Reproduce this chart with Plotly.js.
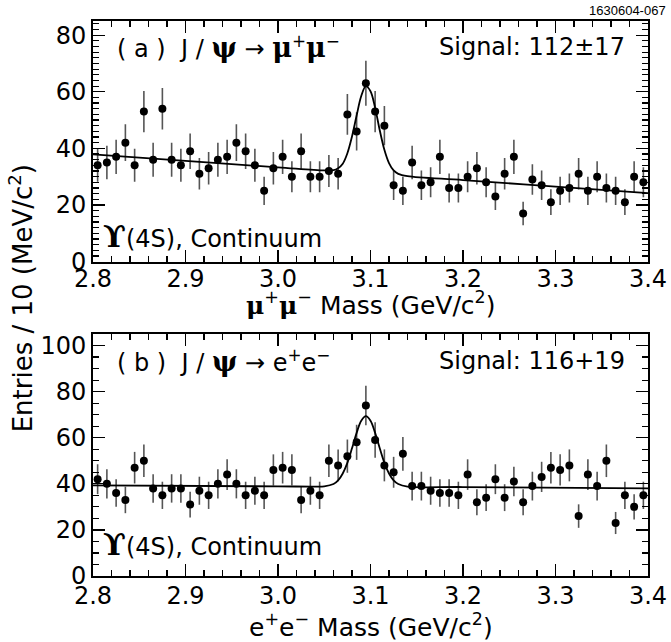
<!DOCTYPE html>
<html>
<head>
<meta charset="utf-8">
<script src="https://cdn.plot.ly/plotly-3.0.1.min.js"></script>
<style>html,body{margin:0;padding:0;background:#fff;}#chart{width:671px;height:642px;}</style>
</head>
<body>
<div id="chart"></div>
<script>
// Bin centres (10 MeV bins)
const massBins = [2.805,2.815,2.825,2.835,2.845,2.855,2.865,2.875,2.885,2.895,
  2.905,2.915,2.925,2.935,2.945,2.955,2.965,2.975,2.985,2.995,
  3.005,3.015,3.025,3.035,3.045,3.055,3.065,3.075,3.085,3.095,
  3.105,3.115,3.125,3.135,3.145,3.155,3.165,3.175,3.185,3.195,
  3.205,3.215,3.225,3.235,3.245,3.255,3.265,3.275,3.285,3.295,
  3.305,3.315,3.325,3.335,3.345,3.355,3.365,3.375,3.385,3.395];

// (a) J/psi -> mu+ mu- entries
const muEntries = [34,35,37,42,34,53,36,54,36,34,
  39,31,33,36,37,42,39,34,25,33,
  37,30,39,30,30,32,31,52,46,63,
  53,48,27,25,35,27,28,37,26,26,
  30,33,28,23,31,37,17,29,27,21,
  25,26,31,25,30,26,25,21,30,28];

// (b) J/psi -> e+ e- entries
const eeEntries = [42,40,36,33,47,50,38,35,38,38,
  31,37,35,40,44,40,35,37,35,46,
  47,46,33,37,35,50,48,52,58,74,
  59,48,45,53,39,39,37,36,36,35,
  44,32,34,42,34,41,32,39,43,47,
  46,48,26,44,39,50,23,35,30,35];

// Fit curves
const fitMuX = [2.80,2.90,3.00,3.05,3.06,3.065,3.07,3.075,3.08,3.085,3.09,3.095,3.10,3.105,3.11,3.115,3.12,3.125,3.13,3.14,3.20,3.30,3.40];
const fitMuY = [37.9,35.6,33.3,32.2,32.3,33.0,34.6,38.3,44.2,51.6,58.5,62.0,60.2,54.3,46.4,39.5,34.8,32.2,31.0,30.2,28.8,26.5,24.2];
const fitEeX = [2.80,3.00,3.04,3.05,3.06,3.065,3.07,3.075,3.08,3.085,3.09,3.095,3.10,3.105,3.11,3.115,3.12,3.125,3.13,3.14,3.20,3.40];
const fitEeY = [39.3,38.9,38.8,38.9,39.9,41.5,44.5,49.1,55.4,62.1,67.4,69.4,67.4,62.1,55.4,49.1,44.5,41.5,39.9,38.8,38.6,38.0];

const xTickVals = [2.8,2.9,3.0,3.1,3.2,3.3,3.4];
const xTickText = ["2.8","2.9","3.0","3.1","3.2","3.3","3.4"];

const FONT = "DejaVu Sans, Liberation Sans, Arial, sans-serif";
const FS = 24;
const G = (s, sz) => '<span style="font-family:DejaVu Serif;font-weight:bold;font-size:' + (sz || 27) + 'px">' + s + '</span>';
const UPS = '<span style="font-family:DejaVu Serif;font-weight:bold;font-size:30px">ϒ</span>';
const SP = '\u00a0';

function pts(xa, ya, data) {
  return {
    x: massBins, y: data, xaxis: xa, yaxis: ya, type: 'scatter', mode: 'markers',
    marker: {color: '#000', size: 8},
    error_y: {type: 'sqrt', visible: true, color: '#555', thickness: 1.6, width: 0},
    showlegend: false, hoverinfo: 'skip'
  };
}
const traces = [
  pts('x', 'y', muEntries),
  {x: fitMuX, y: fitMuY, xaxis: 'x', yaxis: 'y', type: 'scatter', mode: 'lines',
   line: {color: '#000', width: 1.8, shape: 'spline', smoothing: 1}, showlegend: false, hoverinfo: 'skip'},
  pts('x2', 'y2', eeEntries),
  {x: fitEeX, y: fitEeY, xaxis: 'x2', yaxis: 'y2', type: 'scatter', mode: 'lines',
   line: {color: '#000', width: 1.8, shape: 'spline', smoothing: 1}, showlegend: false, hoverinfo: 'skip'}
];

function xax(anchor, standoff) {
  return {
    anchor: anchor, range: [2.8, 3.4], tickvals: xTickVals, ticktext: xTickText,
    ticks: 'inside', ticklen: 12, tickwidth: 1.2, tickcolor: '#000',
    ticklabelstandoff: standoff,
    minor: {dtick: 0.02, ticklen: 6, tickwidth: 1.2, tickcolor: '#000', ticks: 'inside'},
    showline: true, linewidth: 2, linecolor: '#000', mirror: 'allticks',
    showgrid: false, zeroline: false, tickfont: {family: FONT, size: FS, color: '#000'}
  };
}
function yax(domain, range, minorD, anchor) {
  return {
    domain: domain, anchor: anchor, range: range, dtick: 20, tick0: 0,
    ticks: 'inside', ticklen: 12, tickwidth: 1.2, tickcolor: '#000',
    minor: {dtick: minorD, ticklen: 6, tickwidth: 1.2, tickcolor: '#000', ticks: 'inside'},
    showline: true, linewidth: 2, linecolor: '#000', mirror: 'allticks',
    showgrid: false, zeroline: false, tickfont: {family: FONT, size: FS, color: '#000'}
  };
}

const ann = (x, y, text, xanchor, size) => ({
  xref: 'paper', yref: 'paper', x: x, y: y, text: text, showarrow: false,
  xanchor: xanchor, yanchor: 'middle', font: {family: FONT, size: size || FS, color: '#000'}
});

const headA = '(' + SP + 'a' + SP + ')' + SP + SP + 'J' + SP + '/' + SP + G('ψ') + SP + '→' + SP + G('μ') + '<sup>+</sup>' + G('μ') + '<sup>−</sup>';
const headB = '(' + SP + 'b' + SP + ')' + SP + SP + 'J' + SP + '/' + SP + G('ψ') + SP + '→' + SP + 'e<sup>+</sup>e<sup>−</sup>';

// plot area: top 21 px, bottom frame at 576 px
const layout = {
  width: 671, height: 642,
  margin: {l: 93, r: 23, t: 21, b: 66},
  paper_bgcolor: '#fff', plot_bgcolor: '#fff',
  showlegend: false,
  xaxis: xax('y', -5),
  yaxis: yax([0.5665, 1], [0, 85], 2, 'x'),
  xaxis2: xax('y2', -3),
  yaxis2: yax([0, 0.436], [0, 105], 5, 'x2'),
  annotations: [
    ann(0.04, 0.953, headA, 'left'),
    ann(0.963, 0.953, 'Signal: 112±17', 'right'),
    ann(0.015, 0.612, UPS + '(4S), Continuum', 'left'),
    ann(0.04, 0.388, headB, 'left'),
    ann(0.963, 0.388, 'Signal: 116+19', 'right'),
    ann(0.015, 0.056, UPS + '(4S), Continuum', 'left'),
    ann(0.5, 0.491, G('μ', 25) + '<sup>+</sup>' + G('μ', 25) + '<sup>−</sup> Mass (GeV/c<sup>2</sup>)', 'center', 25),
    ann(0.5, -0.09, 'e<sup>+</sup>e<sup>−</sup> Mass (GeV/c<sup>2</sup>)', 'center', 25),
    {xref: 'paper', yref: 'paper', x: -0.13, y: 0.5, text: 'Entries / 10 (MeV/c<sup>2</sup>)', showarrow: false,
     textangle: -90, xanchor: 'center', yanchor: 'middle', font: {family: FONT, size: 26, color: '#000'}},
    {xref: 'paper', yref: 'paper', x: 1.036, y: 1.036, text: '1630604-067', showarrow: false,
     xanchor: 'right', yanchor: 'top', font: {family: "Liberation Sans, Arial, sans-serif", size: 13, color: '#000'}}
  ]
};

Plotly.newPlot('chart', traces, layout, {staticPlot: true, displayModeBar: false});
</script>
</body>
</html>
